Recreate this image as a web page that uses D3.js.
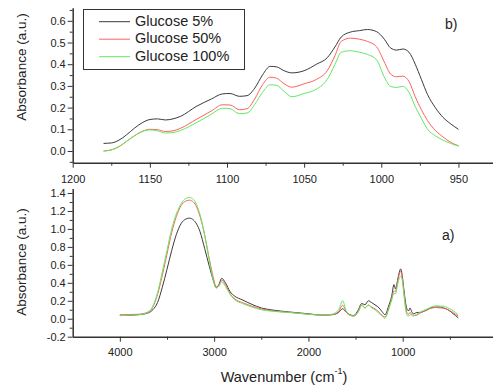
<!DOCTYPE html>
<html>
<head>
<meta charset="utf-8">
<script src="https://cdn.jsdelivr.net/npm/d3@7"></script>
<style>
  body { margin: 0; background: #fff; }
  svg { display: block; font-family: "Liberation Sans", Arial, sans-serif; }
  .axis path, .axis line { stroke: #333; }
  .axis text { fill: #222; font-size: 11px; }
</style>
</head>
<body>
<div id="chart"></div>
<script>
// series names + colors
const seriesNames = ['Glucose 5%', 'Glucose 50%', 'Glucose 100%'];
const seriesColors = ['#3a3a3a', '#ff6060', '#60ea60'];

// panel b) zoom 1180-950 cm-1
const wnTop = [1180, 1175, 1170, 1165, 1160, 1155, 1150, 1145, 1140, 1135, 1130, 1120, 1110, 1103, 1098, 1092, 1087, 1082, 1077, 1072, 1068, 1063, 1058, 1050, 1042, 1035, 1030, 1026, 1020, 1014, 1009, 1003, 998, 994, 990, 986, 982, 978, 974, 970, 965, 960, 955, 950];
const top5 = [0.035, 0.037, 0.05, 0.075, 0.105, 0.13, 0.145, 0.148, 0.143, 0.148, 0.16, 0.205, 0.24, 0.263, 0.265, 0.252, 0.255, 0.29, 0.35, 0.39, 0.388, 0.37, 0.36, 0.37, 0.40, 0.43, 0.48, 0.525, 0.548, 0.555, 0.56, 0.55, 0.515, 0.475, 0.465, 0.47, 0.455, 0.40, 0.33, 0.26, 0.20, 0.155, 0.125, 0.10];
const top50 = [0.0, 0.005, 0.02, 0.045, 0.07, 0.09, 0.10, 0.098, 0.09, 0.093, 0.105, 0.145, 0.185, 0.213, 0.212, 0.19, 0.195, 0.24, 0.305, 0.34, 0.336, 0.31, 0.294, 0.31, 0.33, 0.37, 0.44, 0.505, 0.52, 0.515, 0.505, 0.48, 0.41, 0.355, 0.342, 0.345, 0.32, 0.25, 0.19, 0.14, 0.095, 0.065, 0.04, 0.024];
const top100 = [0.0, 0.005, 0.02, 0.045, 0.07, 0.09, 0.097, 0.093, 0.083, 0.085, 0.095, 0.13, 0.17, 0.197, 0.195, 0.172, 0.175, 0.215, 0.27, 0.305, 0.303, 0.275, 0.25, 0.265, 0.285, 0.33, 0.40, 0.455, 0.462, 0.455, 0.445, 0.42, 0.34, 0.298, 0.293, 0.298, 0.27, 0.205, 0.15, 0.10, 0.07, 0.05, 0.035, 0.022];

// panel a) full spectrum 4000-400 cm-1
const wnBot = [4000, 3800, 3700, 3650, 3600, 3550, 3500, 3450, 3400, 3350, 3300, 3263, 3220, 3150, 3100, 3050, 3000, 2980, 2950, 2920, 2880, 2830, 2780, 2700, 2600, 2500, 2400, 2200, 2000, 1850, 1750, 1680, 1637, 1600, 1560, 1520, 1470, 1435, 1400, 1365, 1330, 1294, 1250, 1220, 1188, 1150, 1117, 1093, 1075, 1060, 1040, 1022, 1005, 987, 970, 952, 935, 923, 905, 888, 870, 852, 820, 782, 740, 700, 640, 600, 570, 520, 481, 440, 411];
const bot5 = [0.035, 0.045, 0.065, 0.10, 0.18, 0.35, 0.55, 0.76, 0.94, 1.06, 1.11, 1.12, 1.10, 0.97, 0.78, 0.58, 0.40, 0.35, 0.38, 0.45, 0.40, 0.30, 0.25, 0.21, 0.16, 0.12, 0.10, 0.075, 0.055, 0.04, 0.045, 0.07, 0.11, 0.075, 0.045, 0.035, 0.10, 0.17, 0.155, 0.20, 0.18, 0.155, 0.12, 0.08, 0.045, 0.14, 0.25, 0.38, 0.33, 0.40, 0.50, 0.555, 0.48, 0.32, 0.18, 0.10, 0.09, 0.12, 0.08, 0.055, 0.06, 0.07, 0.07, 0.08, 0.10, 0.12, 0.13, 0.13, 0.12, 0.10, 0.07, 0.035, 0.01];
const bot50 = [0.045, 0.05, 0.075, 0.13, 0.27, 0.48, 0.72, 0.96, 1.14, 1.26, 1.31, 1.32, 1.30, 1.14, 0.93, 0.66, 0.42, 0.35, 0.37, 0.43, 0.38, 0.28, 0.22, 0.18, 0.14, 0.11, 0.09, 0.07, 0.05, 0.04, 0.045, 0.08, 0.15, 0.08, 0.04, 0.03, 0.08, 0.15, 0.12, 0.15, 0.13, 0.11, 0.07, 0.04, 0.02, 0.11, 0.22, 0.31, 0.30, 0.38, 0.48, 0.53, 0.46, 0.29, 0.14, 0.06, 0.05, 0.07, 0.05, 0.035, 0.035, 0.04, 0.06, 0.08, 0.10, 0.12, 0.125, 0.12, 0.12, 0.10, 0.08, 0.05, 0.03];
const bot100 = [0.035, 0.045, 0.07, 0.14, 0.29, 0.52, 0.76, 1.0, 1.17, 1.28, 1.34, 1.35, 1.33, 1.16, 0.93, 0.64, 0.39, 0.34, 0.36, 0.41, 0.36, 0.27, 0.21, 0.17, 0.13, 0.10, 0.085, 0.07, 0.05, 0.04, 0.05, 0.10, 0.20, 0.09, 0.04, 0.03, 0.08, 0.155, 0.12, 0.155, 0.12, 0.10, 0.06, 0.03, 0.005, 0.10, 0.21, 0.28, 0.28, 0.35, 0.44, 0.47, 0.43, 0.27, 0.11, 0.035, 0.03, 0.045, 0.04, 0.03, 0.04, 0.05, 0.07, 0.09, 0.11, 0.13, 0.145, 0.14, 0.14, 0.12, 0.10, 0.07, 0.045];

// tick values
const topXTicks = [1200, 1150, 1100, 1050, 1000, 950];
const topYTicks = [0.0, 0.1, 0.2, 0.3, 0.4, 0.5, 0.6];
const botXTicks = [4000, 3000, 2000, 1000];
const botYTicks = [-0.2, 0.0, 0.2, 0.4, 0.6, 0.8, 1.0, 1.2, 1.4];

const W = 493, H = 390;
const svg = d3.select('#chart').append('svg')
  .attr('width', W)
  .attr('height', H);

const left = 72.7, right = 497;

function drawPanel(opt) {
  const x = d3.scaleLinear().domain(opt.xDomain).range([left, right]);
  const y = d3.scaleLinear().domain(opt.yDomain).range(opt.yRange);

  const g = svg.append('g');

  // minor ticks first so major ones draw on top
  g.append('g').attr('class', 'axis')
    .attr('transform', `translate(0,${opt.yRange[0]})`)
    .call(d3.axisBottom(x).tickValues(opt.xMinor).tickSize(3).tickFormat(''))
    .call(s => s.select('.domain').remove());
  g.append('g').attr('class', 'axis')
    .attr('transform', `translate(${left},0)`)
    .call(d3.axisLeft(y).tickValues(opt.yMinor).tickSize(3).tickFormat(''))
    .call(s => s.select('.domain').remove());

  const xa = g.append('g').attr('class', 'axis')
    .attr('transform', `translate(0,${opt.yRange[0]})`)
    .call(d3.axisBottom(x).tickValues(opt.xTicks).tickSize(5).tickSizeOuter(0).tickPadding(opt.xPad).tickFormat(d3.format('d')));
  xa.select('.domain').attr('stroke-width', 1.5);

  const ya = g.append('g').attr('class', 'axis')
    .attr('transform', `translate(${left},0)`)
    .call(d3.axisLeft(y).tickValues(opt.yTicks).tickSize(5).tickSizeOuter(0).tickPadding(2).tickFormat(d3.format('.1f')));
  ya.select('.domain').attr('stroke-width', 1.5);
  ya.selectAll('.tick text').text(d => d3.format('.1f')(d).replace('−', '-'));

  const line = d3.line()
    .x(d => x(d[0]))
    .y(d => y(d[1]))
    .curve(d3.curveMonotoneX);

  opt.series.forEach((vals, i) => {
    g.append('path')
      .datum(opt.wn.map((w, j) => [w, vals[j]]))
      .attr('fill', 'none')
      .attr('stroke', seriesColors[i])
      .attr('stroke-width', 1)
      .attr('d', line);
  });

  // y title
  g.append('text')
    .attr('transform', `translate(22,${opt.yLabelY}) rotate(-90)`)
    .attr('text-anchor', 'middle')
    .attr('dominant-baseline', 'middle')
    .attr('font-size', 13.5)
    .attr('fill', '#222')
    .text('Absorbance (a.u.)');

  g.append('text')
    .attr('x', opt.tagX).attr('y', opt.tagY)
    .attr('dominant-baseline', 'middle')
    .attr('font-size', 14)
    .attr('fill', '#222')
    .text(opt.tag);
}

drawPanel({
  wn: wnTop, series: [top5, top50, top100],
  xDomain: [1200, 925], yDomain: [-0.054, 0.66], yRange: [162.7, 7.8],
  xTicks: topXTicks, xMinor: d3.range(1175, 925, -50),
  yTicks: topYTicks, yMinor: [-0.05, 0.05, 0.15, 0.25, 0.35, 0.45, 0.55, 0.65],
  xPad: 8, yLabelY: 67, tag: 'b)', tagX: 445, tagY: 25
});

drawPanel({
  wn: wnBot, series: [bot5, bot50, bot100],
  xDomain: [4500, 0], yDomain: [-0.2, 1.45], yRange: [336.7, 188.5],
  xTicks: botXTicks, xMinor: [3500, 2500, 1500, 500],
  yTicks: botYTicks, yMinor: [-0.1, 0.1, 0.3, 0.5, 0.7, 0.9, 1.1, 1.3],
  xPad: 7, yLabelY: 262, tag: 'a)', tagX: 442, tagY: 236
});

// x title with superscript
const xt = svg.append('text')
  .attr('x', 284).attr('y', 378)
  .attr('text-anchor', 'middle')
  .attr('dominant-baseline', 'middle')
  .attr('font-size', 14.5)
  .attr('fill', '#222');
xt.append('tspan').text('Wavenumber (cm');
xt.append('tspan').attr('dy', -6).attr('font-size', 9).text('-1');
xt.append('tspan').attr('dy', 6).text(')');

// legend
const leg = svg.append('g');
leg.append('rect')
  .attr('x', 83.5).attr('y', 9.5)
  .attr('width', 161).attr('height', 60)
  .attr('fill', '#fff')
  .attr('stroke', '#333');
seriesNames.forEach((name, i) => {
  const ly = 21.7 + i * 17.5;
  leg.append('line')
    .attr('x1', 99).attr('x2', 130)
    .attr('y1', ly).attr('y2', ly)
    .attr('stroke', seriesColors[i])
    .attr('stroke-width', 1);
  leg.append('text')
    .attr('x', 135).attr('y', ly)
    .attr('dominant-baseline', 'middle')
    .attr('font-size', 14.5)
    .attr('fill', '#222')
    .text(name);
});
</script>
</body>
</html>
